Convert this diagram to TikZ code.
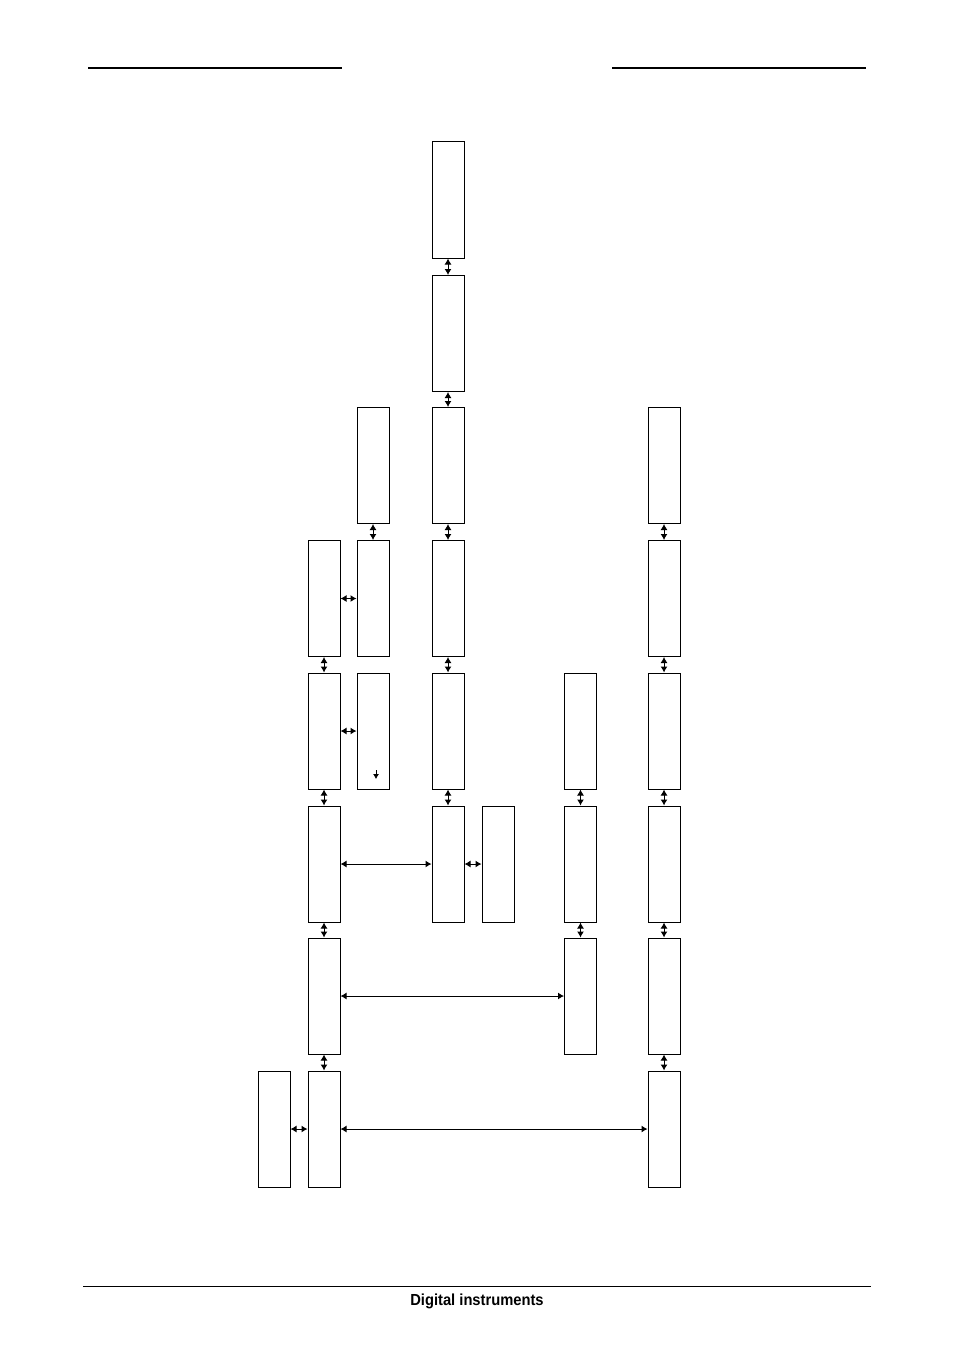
\documentclass[tikz,border=0pt]{standalone}
\usepackage{fontspec}
\setmainfont{Liberation Sans}
\usetikzlibrary{arrows.meta}
\begin{document}
\begin{tikzpicture}[x=1pt,y=-1pt,
  box/.style={draw,line width=1pt,minimum width=32pt,minimum height=116pt,inner sep=0pt},
  link/.style={line width=1pt,{Latex[length=6pt,width=7pt]}-{Latex[length=6pt,width=7pt]}},
  rule/.style={line width=1.2pt}]
\useasboundingbox (0,0) rectangle (954,1351);
% header / footer rules
\coordinate (h1a) at (88,68); \coordinate (h1b) at (342,68);
\coordinate (h2a) at (612,68); \coordinate (h2b) at (866,68);
\coordinate (fa) at (83,1286); \coordinate (fb) at (871,1286);
\draw[rule] (h1a) -- (h1b);
\draw[rule] (h2a) -- (h2b);
\draw[line width=0.9pt] (fa) -- (fb);
\node[font=\fontsize{16}{18}\selectfont\bfseries\addfontfeature{FakeStretch=0.92},anchor=base,inner sep=0pt] (foot) at (477,1305) {Digital instruments};
% column C
\node[box] (c1) at (448,200) {};
\node[box] (c2) at (448,333.5) {};
\node[box] (c3) at (448,465.5) {};
\node[box] (c4) at (448,598.5) {};
\node[box] (c5) at (448,731) {};
\node[box] (c6) at (448,864) {};
% column B
\node[box] (b1) at (373,465.5) {};
\node[box] (b2) at (373,598.5) {};
\node[box] (b3) at (373,731) {};
% column A
\node[box] (a1) at (324,598.5) {};
\node[box] (a2) at (324,731) {};
\node[box] (a3) at (324,864) {};
\node[box] (a4) at (324,996) {};
\node[box] (a5) at (324,1129) {};
\node[box] (a0) at (274,1129) {};
% column D
\node[box] (d1) at (498,864) {};
% column E
\node[box] (e1) at (580.5,731) {};
\node[box] (e2) at (580.5,864) {};
\node[box] (e3) at (580.5,996) {};
% column F
\node[box] (f1) at (664,465.5) {};
\node[box] (f2) at (664,598.5) {};
\node[box] (f3) at (664,731) {};
\node[box] (f4) at (664,864) {};
\node[box] (f5) at (664,996) {};
\node[box] (f6) at (664,1129) {};
% vertical links
\foreach \u/\v in {c1/c2,c2/c3,c3/c4,c4/c5,c5/c6,b1/b2,a1/a2,a2/a3,a3/a4,a4/a5,e1/e2,e2/e3,f1/f2,f2/f3,f3/f4,f4/f5,f5/f6}
  \draw[link] (\u.south) -- (\v.north);
% horizontal links
\foreach \u/\v in {a1/b2,a2/b3,a3/c6,c6/d1,a4/e3,a5/f6,a0/a5}
  \draw[link] (\u.east) -- (\v.west);
% small arrow inside b3
\coordinate (s1) at (376,770); \coordinate (s2) at (376,779);
\draw[line width=0.8pt,-{Latex[length=5pt,width=6pt]}] (s1) -- (s2);
\end{tikzpicture}
\end{document}
